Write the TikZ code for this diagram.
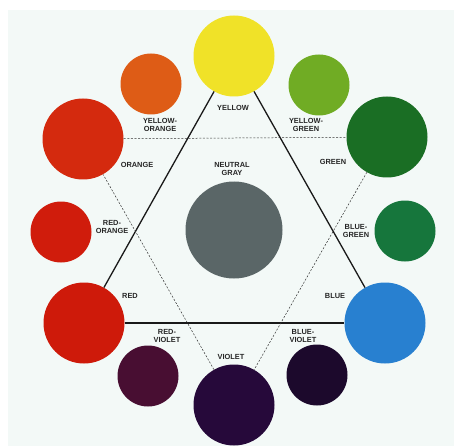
\documentclass[tikz,border=0pt]{standalone}
\usepackage{fontspec}
\setmainfont{Liberation Sans}
\definecolor{bgc}{RGB}{243,249,247}
\definecolor{cyel}{RGB}{240,226,40}
\definecolor{cyor}{RGB}{222,92,22}
\definecolor{cygr}{RGB}{112,172,36}
\definecolor{corg}{RGB}{212,42,14}
\definecolor{cgrn}{RGB}{26,110,36}
\definecolor{crog}{RGB}{208,28,12}
\definecolor{cbgr}{RGB}{22,118,60}
\definecolor{cred}{RGB}{206,26,10}
\definecolor{cblu}{RGB}{40,128,208}
\definecolor{crvi}{RGB}{72,14,50}
\definecolor{cbvi}{RGB}{28,9,44}
\definecolor{cvio}{RGB}{38,9,58}
\definecolor{cgry}{RGB}{90,102,103}
\begin{document}
\begin{tikzpicture}[x=1pt,y=-1pt,
  disc/.style={circle,inner sep=0pt,draw=none,minimum size=#1},
  big/.style={disc=81pt},
  small/.style={disc=61pt},
  lbl/.style={font=\fontsize{7.4}{7.8}\selectfont\bfseries,align=center,inner sep=0pt,text=black!85},
  solidline/.style={line width=1.3pt,black!90},
  dashline/.style={line width=0.5pt,black!80,dash pattern=on 2pt off 1.6pt}]
\useasboundingbox (0,0) rectangle (454,446);
\fill[white] (0,0) rectangle (454,446);
\fill[bgc] (8,10) rectangle (454,446);
% circles
\node[big,fill=cyel] (yel) at (234,56) {};
\node[small,fill=cyor] (yor) at (151,84) {};
\node[small,fill=cygr] (ygr) at (319,85) {};
\node[big,fill=corg] (org) at (83,139) {};
\node[big,fill=cgrn] (grn) at (387,137) {};
\node[small,fill=crog] (rog) at (61,232) {};
\node[small,fill=cbgr] (bgr) at (405,231) {};
\node[big,fill=cred] (red) at (84,323) {};
\node[big,fill=cblu] (blu) at (385,323) {};
\node[small,fill=crvi] (rvi) at (148,376) {};
\node[small,fill=cbvi] (bvi) at (317,375) {};
\node[big,fill=cvio] (vio) at (234,405) {};
\node[disc=97pt,fill=cgry] (gry) at (234,230) {};
% triangles
\draw[solidline] (yel) -- (red);
\draw[solidline] (red) -- (blu);
\draw[solidline] (blu) -- (yel);
\draw[dashline] (org) -- (grn);
\draw[dashline] (grn) -- (vio);
\draw[dashline] (vio) -- (org);
% labels
\node[lbl] (tyel) at (233,108) {YELLOW};
\node[lbl] (tyor) at (160,125) {YELLOW-\\ORANGE};
\node[lbl] (tygr) at (306,125) {YELLOW-\\GREEN};
\node[lbl] (torg) at (137,165) {ORANGE};
\node[lbl] (tgrn) at (333,162) {GREEN};
\node[lbl] (tgry) at (232,169) {NEUTRAL\\GRAY};
\node[lbl] (trog) at (112,227) {RED-\\ORANGE};
\node[lbl] (tbgr) at (356,231) {BLUE-\\GREEN};
\node[lbl] (tred) at (130,296) {RED};
\node[lbl] (tblu) at (335,296) {BLUE};
\node[lbl] (trvi) at (167,336) {RED-\\VIOLET};
\node[lbl] (tbvi) at (303,336) {BLUE-\\VIOLET};
\node[lbl] (tvio) at (231,357) {VIOLET};
\end{tikzpicture}
\end{document}
